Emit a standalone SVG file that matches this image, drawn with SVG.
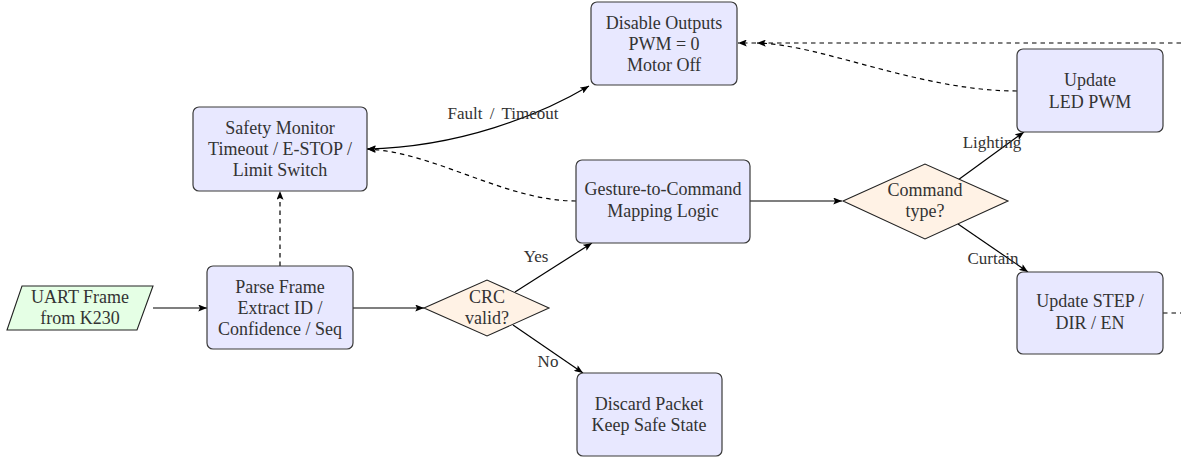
<svg xmlns="http://www.w3.org/2000/svg" width="1181" height="457" viewBox="0 0 1181 457" font-family="'Liberation Serif', 'Times New Roman', serif">
<defs>
<marker id="ah" viewBox="0 0 10 8" refX="10" refY="4" markerWidth="9" markerHeight="7" markerUnits="userSpaceOnUse" orient="auto-start-reverse">
<path d="M0,0 L10,4 L0,8 L2,4 Z" fill="#000"/>
</marker>
<style>
.box{fill:#E8E8FF;stroke:#3a3a3a;stroke-width:1.2}
.dia{fill:#FFF2E5;stroke:#222;stroke-width:1.1}
.io{fill:#E5FFE5;stroke:#222;stroke-width:1.1}
text{font-family:'Liberation Serif', serif}
.t{font-size:18px;fill:#333;text-anchor:middle}
.l{font-size:17px;fill:#333;text-anchor:middle}
.c{fill:none;stroke:#000;stroke-width:1.2}
.d{fill:none;stroke:#000;stroke-width:1.2;stroke-dasharray:4.5 4}
</style>
</defs>
<rect width="1181" height="457" fill="#fff"/>
<g id="connectors">
<path class="c" d="M153,308 L207,308" marker-end="url(#ah)"/>
<path class="c" d="M353,308 L424,308" marker-end="url(#ah)"/>
<path class="d" d="M280,266 L280,191" marker-end="url(#ah)"/>
<path class="c" d="M515,292 L592,243" marker-end="url(#ah)"/>
<path class="c" d="M513,325 L583,373" marker-end="url(#ah)"/>
<path class="c" d="M750,201 L842,201" marker-end="url(#ah)"/>
<path class="c" d="M958,180 L1024,132" marker-end="url(#ah)"/>
<path class="c" d="M958,224 L1028,272" marker-end="url(#ah)"/>
<path class="c" d="M367,149 C460,147 540,115 589,86" marker-start="url(#ah)" marker-end="url(#ah)"/>
<path class="d" d="M576,201 C505,201 435,152 367,149" marker-end="url(#ah)"/>
<path class="d" d="M1017,91 C920,91 820,44 757,43" marker-end="url(#ah)"/>
<path class="d" d="M1181,43 L738,43" marker-end="url(#ah)"/>
<path class="d" d="M1163,313 L1181,313"/>
<text class="l" x="503" y="119" word-spacing="3">Fault / Timeout</text>
<text class="l" x="536" y="262">Yes</text>
<text class="l" x="548" y="367">No</text>
<text class="l" x="992" y="148">Lighting</text>
<text class="l" x="993" y="264">Curtain</text>
</g>
<g id="uart">
<polygon class="io" points="22,286 153,286 137,330 7,330"/>
<text class="t" x="80" y="303">UART Frame</text>
<text class="t" x="80" y="324">from K230</text>
</g>
<g id="parse">
<rect class="box" x="207" y="266" width="146" height="83" rx="6"/>
<text class="t" x="280" y="293">Parse Frame</text>
<text class="t" x="280" y="314">Extract ID /</text>
<text class="t" x="280" y="335">Confidence / Seq</text>
</g>
<g id="safety">
<rect class="box" x="193" y="107" width="174" height="84" rx="6"/>
<text class="t" x="280" y="134">Safety Monitor</text>
<text class="t" x="280" y="155">Timeout / E-STOP /</text>
<text class="t" x="280" y="176">Limit Switch</text>
</g>
<g id="crc">
<polygon class="dia" points="424,308 487,280 549,308 487,336"/>
<text class="t" x="487" y="303">CRC</text>
<text class="t" x="487" y="324">valid?</text>
</g>
<g id="disable">
<rect class="box" x="591" y="2" width="146" height="83" rx="6"/>
<text class="t" x="664" y="29">Disable Outputs</text>
<text class="t" x="664" y="50">PWM = 0</text>
<text class="t" x="664" y="71">Motor Off</text>
</g>
<g id="gesture">
<rect class="box" x="576" y="160" width="174" height="83" rx="6"/>
<text class="t" x="663" y="195">Gesture-to-Command</text>
<text class="t" x="663" y="217">Mapping Logic</text>
</g>
<g id="discard">
<rect class="box" x="577" y="373" width="145" height="83" rx="6"/>
<text class="t" x="649" y="410">Discard Packet</text>
<text class="t" x="649" y="431">Keep Safe State</text>
</g>
<g id="cmdtype">
<polygon class="dia" points="843,201 925,164 1008,201 925,239"/>
<text class="t" x="925" y="196">Command</text>
<text class="t" x="925" y="217">type?</text>
</g>
<g id="led">
<rect class="box" x="1017" y="49" width="146" height="83" rx="6"/>
<text class="t" x="1090" y="86">Update</text>
<text class="t" x="1090" y="108">LED PWM</text>
</g>
<g id="step">
<rect class="box" x="1017" y="272" width="146" height="82" rx="6"/>
<text class="t" x="1090" y="307">Update STEP /</text>
<text class="t" x="1090" y="329">DIR / EN</text>
</g>
</svg>
